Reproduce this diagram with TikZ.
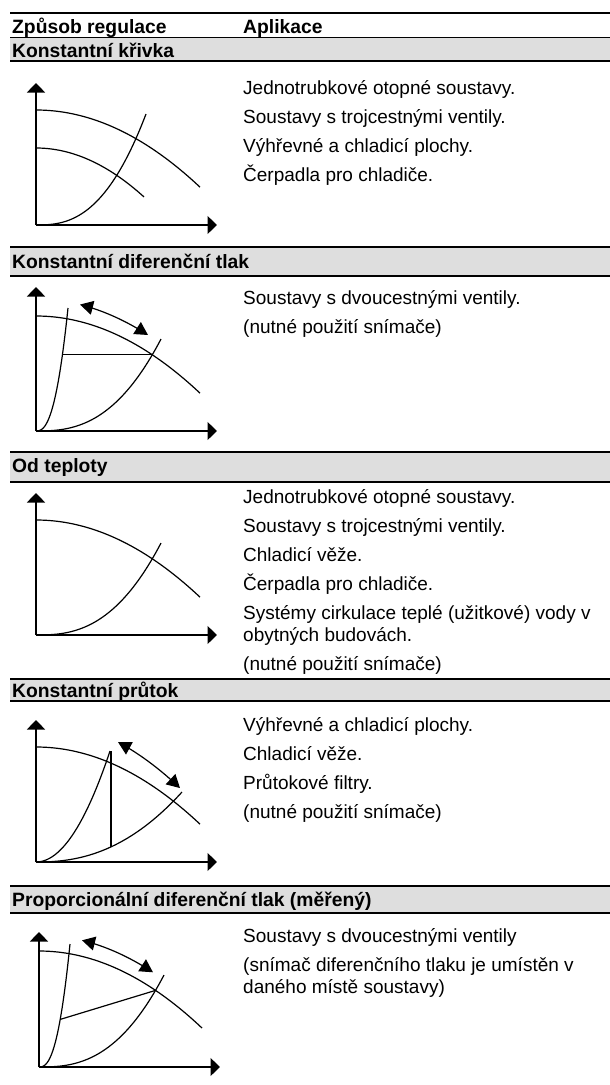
\documentclass[tikz,border=0pt]{standalone}
\usepackage{fontspec}
\setmainfont{Liberation Sans}
\usetikzlibrary{arrows.meta}
\definecolor{bandgray}{HTML}{DEDEDE}
\begin{document}
\begin{tikzpicture}[x=1pt,y=-1pt,
  txt/.style={anchor=base west, inner sep=0pt, font=\fontsize{19}{22}\selectfont},
  hdr/.style={anchor=base west, inner sep=0pt, font=\fontsize{19.3}{22}\selectfont\bfseries},
  rulethick/.style={line width=2.6pt},
  crv/.style={line width=1.2pt},
  axisarrow/.style={line width=1.4pt, -{Triangle[length=9.5pt,width=18pt]}},
  dblarrow/.style={line width=1.2pt, {Triangle[length=13pt,width=14pt]}-{Triangle[length=13pt,width=14pt]}},
]
\useasboundingbox (0,0) rectangle (610,1085);

% ---------- header ----------
\draw[rulethick] (10,13) -- (610,13);
\node[hdr] (h1) at (12,33) {Způsob regulace};
\node[hdr] (h2) at (243,33) {Aplikace};
\fill[bandgray] (10,37) rectangle (610,60);
\draw[line width=0.6pt] (10,37) -- (610,37);
\draw[rulethick] (10,61) -- (610,61);
\node[hdr] (b1) at (12,57) {Konstantní křivka};

% ---------- bands ----------
\fill[bandgray] (10,247) rectangle (610,276);
\draw[rulethick] (10,247) -- (610,247);
\draw[rulethick] (10,276) -- (610,276);
\node[hdr] (b2) at (12,268) {Konstantní diferenční tlak};

\fill[bandgray] (10,452) rectangle (610,482);
\draw[rulethick] (10,452) -- (610,452);
\draw[rulethick] (10,482) -- (610,482);
\node[hdr] (b3) at (12,472) {Od teploty};

\fill[bandgray] (10,679) rectangle (610,701);
\draw[rulethick] (10,679) -- (610,679);
\draw[rulethick] (10,701) -- (610,701);
\node[hdr] (b4) at (12,697) {Konstantní průtok};

\fill[bandgray] (10,886) rectangle (610,913);
\draw[rulethick] (10,886) -- (610,886);
\draw[rulethick] (10,913) -- (610,913);
\node[hdr] (b5) at (12,906) {Proporcionální diferenční tlak (měřený)};

% ---------- application texts ----------
\node[txt] (t11) at (243,94) {Jednotrubkové otopné soustavy.};
\node[txt] (t12) at (243,123) {Soustavy s trojcestnými ventily.};
\node[txt] (t13) at (243,152) {Výhřevné a chladicí plochy.};
\node[txt] (t14) at (243,181) {Čerpadla pro chladiče.};

\node[txt] (t21) at (243,304) {Soustavy s dvoucestnými ventily.};
\node[txt] (t22) at (243,333) {(nutné použití snímače)};

\node[txt] (t31) at (243,503) {Jednotrubkové otopné soustavy.};
\node[txt] (t32) at (243,532) {Soustavy s trojcestnými ventily.};
\node[txt] (t33) at (243,561) {Chladicí věže.};
\node[txt] (t34) at (243,590) {Čerpadla pro chladiče.};
\node[txt] (t35) at (243,619) {Systémy cirkulace teplé (užitkové) vody v};
\node[txt] (t36) at (243,641) {obytných budovách.};
\node[txt] (t37) at (243,670) {(nutné použití snímače)};

\node[txt] (t41) at (243,731) {Výhřevné a chladicí plochy.};
\node[txt] (t42) at (243,760) {Chladicí věže.};
\node[txt] (t43) at (243,789) {Průtokové filtry.};
\node[txt] (t44) at (243,818) {(nutné použití snímače)};

\node[txt] (t51) at (243,942) {Soustavy s dvoucestnými ventily};
\node[txt] (t52) at (243,971) {(snímač diferenčního tlaku je umístěn v};
\node[txt] (t53) at (243,993) {daného místě soustavy)};

% ---------- diagram 1 ----------
\begin{scope}[shift={(36,225)}, yscale=-1]
  \coordinate (o1) at (0,0);
  \draw[axisarrow] (o1) -- (0,142);
  \draw[axisarrow] (o1) -- (181,0);
  \draw[crv] plot[domain=0:164,samples=50] (\x,{115-0.002863*\x*\x});
  \draw[crv] plot[domain=0:108,samples=40] (\x,{77-0.0042*\x*\x});
  \draw[crv] (o1) -- plot[domain=0.5:110,samples=50] (\x,{111*pow(\x/110,2.6)});
\end{scope}

% ---------- diagram 2 ----------
\begin{scope}[shift={(36,431)}, yscale=-1]
  \coordinate (o2) at (0,0);
  \draw[axisarrow] (o2) -- (0,144);
  \draw[axisarrow] (o2) -- (181,0);
  \draw[crv] plot[domain=0:164,samples=50] (\x,{115-0.002863*\x*\x});
  \draw[crv] (o2) -- plot[domain=0.3:32,samples=40] (\x,{123*pow(\x/32,2.5)});
  \draw[crv] (o2) -- plot[domain=0.5:125,samples=50] (\x,{92*pow(\x/125,2.6)});
  \coordinate (p2a) at (26.3,76.2);
  \coordinate (p2b) at (116.5,76.2);
  \draw[crv] (p2a) -- (p2b);
  \draw[dblarrow] plot[domain=44:112,samples=30] (\x,{132-0.002863*\x*\x});
\end{scope}

% ---------- diagram 3 ----------
\begin{scope}[shift={(36,635)}, yscale=-1]
  \coordinate (o3) at (0,0);
  \draw[axisarrow] (o3) -- (0,142);
  \draw[axisarrow] (o3) -- (181,0);
  \draw[crv] plot[domain=0:164,samples=50] (\x,{115-0.002863*\x*\x});
  \draw[crv] (o3) -- plot[domain=0.5:125,samples=50] (\x,{92*pow(\x/125,2.6)});
\end{scope}

% ---------- diagram 4 ----------
\begin{scope}[shift={(36,862)}, yscale=-1]
  \coordinate (o4) at (0,0);
  \draw[axisarrow] (o4) -- (0,142);
  \draw[axisarrow] (o4) -- (181,0);
  \draw[crv] plot[domain=0:164,samples=50] (\x,{115-0.002863*\x*\x});
  \draw[crv] (o4) -- plot[domain=0.5:146,samples=50] (\x,{70*pow(\x/146,2.3)});
  \draw[crv] plot[domain=0:74,samples=40] (\x,{111*(\x/74)*(\x/74)});
  \coordinate (p4a) at (75,15.1);
  \coordinate (p4b) at (75,111);
  \draw[crv] (p4a) -- (p4b);
  \draw[dblarrow] plot[domain=82:144,samples=30] (\x,{142-0.00328*\x*\x});
\end{scope}

% ---------- diagram 5 ----------
\begin{scope}[shift={(39,1067)}, yscale=-1]
  \coordinate (o5) at (0,0);
  \draw[axisarrow] (o5) -- (0,135);
  \draw[axisarrow] (o5) -- (181,0);
  \draw[crv] plot[domain=0:163,samples=50] (\x,{116-0.0029*\x*\x});
  \draw[crv] (o5) -- plot[domain=0.3:31,samples=40] (\x,{123*pow(\x/31,2.5)});
  \draw[crv] (o5) -- plot[domain=0.5:125,samples=50] (\x,{92*pow(\x/125,2.6)});
  \coordinate (p5a) at (21.2,47.6);
  \coordinate (p5b) at (116.5,76.6);
  \draw[crv] (p5a) -- (p5b);
  \draw[dblarrow] plot[domain=43:114,samples=30] (\x,{132-0.002863*\x*\x});
\end{scope}
\end{tikzpicture}
\end{document}
